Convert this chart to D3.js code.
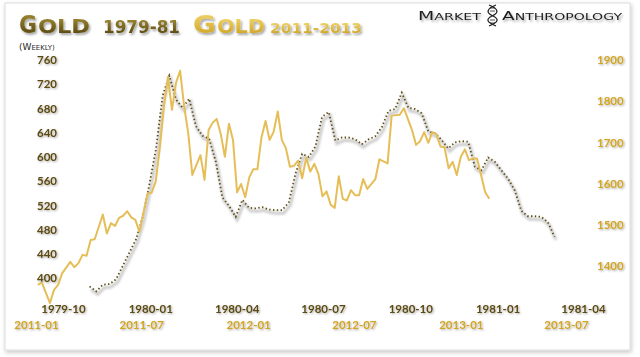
<!DOCTYPE html>
<html><head><meta charset="utf-8">
<script src="https://cdn.jsdelivr.net/npm/d3@7"></script>
<style>
html,body{margin:0;padding:0;background:#fff;}
svg{display:block;}
</style></head>
<body>
<svg id="chart" width="640" height="357"></svg>
<script>
// ---------- DATA ----------
// 1979-81 weekly gold (left axis, upper date axis); week index from 1979-10-29
const oldWeeks = d3.range(0, 71);
const oldValues = [386,378,389,390,398,420,442,464,501,554,613,701,734,695,681,696,651,635,630,592,
  533,519,501,529,516,515,517,513,512,512,525,572,605,600,617,666,674,627,632,632,
  629,621,629,634,649,676,679,706,681,679,672,642,639,628,614,624,626,625,584,578,
  599,592,578,564,545,511,502,502,501,492,468];
// 2011-13 weekly gold (right axis, lower date axis); week index from 2011-01-04
const newWeeks = [0,1,3,4,5,6,8,9,10,11,12,13,14,16,17,18,19,20,21,22,23,24,25,27,28,29,30,31,32,33,
  34,35,36,37,38,40,41,42,43,44,45,46,47,48,49,50,51,52,53,54,55,56,57,58,59,60,61,62,63,64,
  65,66,67,68,69,70,71,72,73,74,75,76,77,78,79,80,81,83,84,86,87,89,90,92,93,94,95,96,97,98,
  99,100,101,102,103,104,105,106,107,108,110,111];
const newValues = [1354,1360,1310,1342,1354,1382,1410,1397,1407,1427,1425,1463,1465,1525,1479,1504,1497,1517,1522,1533,
  1518,1512,1483,1576,1578,1605,1686,1787,1859,1779,1845,1874,1787,1722,1621,1669,1609,1730,1748,1757,
  1720,1665,1745,1706,1579,1599,1567,1615,1635,1635,1712,1752,1706,1726,1775,1706,1686,1641,1643,1656,
  1613,1663,1629,1648,1623,1569,1581,1549,1541,1618,1563,1559,1584,1572,1572,1611,1587,1611,1659,1649,
  1765,1767,1783,1730,1694,1703,1725,1699,1725,1720,1690,1688,1637,1653,1621,1665,1683,1657,1661,1661,
  1579,1563];
const leftTicks = [400,440,480,520,560,600,640,680,720,760];
const rightTicks = [1400,1500,1600,1700,1800,1900];
const oldDateTicks = ["1979-10","1980-01","1980-04","1980-07","1980-10","1981-01","1981-04"];
const newDateTicks = ["2011-01","2011-07","2012-01","2012-07","2013-01","2013-07"];

// ---------- SETUP ----------
const svg = d3.select("#chart");
const defs = svg.append("defs");
const parseYM = d3.timeParse("%Y-%m");
const fmt = d3.timeFormat("%Y-%m");

const fShadow = defs.append("filter").attr("id","frameShadow").attr("x","-5%").attr("y","-5%").attr("width","110%").attr("height","110%");
fShadow.append("feDropShadow").attr("dx",1).attr("dy",2).attr("stdDeviation",2).attr("flood-color","#000").attr("flood-opacity",0.22);
const tShadow = defs.append("filter").attr("id","textShadow").attr("x","-20%").attr("y","-30%").attr("width","140%").attr("height","160%");
tShadow.append("feDropShadow").attr("dx",1).attr("dy",1).attr("stdDeviation",0.8).attr("flood-color","#000").attr("flood-opacity",0.35);
const titleShadow = defs.append("filter").attr("id","titleShadow").attr("x","-20%").attr("y","-30%").attr("width","140%").attr("height","170%");
titleShadow.append("feDropShadow").attr("dx",1.5).attr("dy",2).attr("stdDeviation",1.2).attr("flood-color","#000").attr("flood-opacity",0.35);
const blur = defs.append("filter").attr("id","lineBlur").attr("x","-10%").attr("y","-10%").attr("width","120%").attr("height","120%");
blur.append("feGaussianBlur").attr("stdDeviation",1.3);

const g1 = defs.append("linearGradient").attr("id","oldGrad").attr("x1",0).attr("y1",0).attr("x2",0).attr("y2",1);
g1.append("stop").attr("offset","0%").attr("stop-color","#a89236");
g1.append("stop").attr("offset","100%").attr("stop-color","#4e3e0a");
const g2 = defs.append("linearGradient").attr("id","newGrad").attr("x1",0).attr("y1",0).attr("x2",0).attr("y2",1);
g2.append("stop").attr("offset","0%").attr("stop-color","#f6da72");
g2.append("stop").attr("offset","100%").attr("stop-color","#c99e1c");

// frame
svg.append("rect").attr("x",5).attr("y",3).attr("width",625).attr("height",347)
  .attr("fill","#fff").attr("stroke","#dcdcdc").attr("stroke-width",1).attr("filter","url(#frameShadow)");

// ---------- SCALES ----------
const xOld = d3.scaleTime().domain([new Date(1979,9,1), new Date(1981,3,1)]).range([63,583]);
const xNew = d3.scaleTime().domain([new Date(2011,0,1), new Date(2013,6,1)]).range([36,566]);
const yOld = d3.scaleLinear().domain([400,760]).range([278,60]);
const yNew = d3.scaleLinear().domain([1400,1900]).range([266,60]);
const oldStart = new Date(1979,9,29), newStart = new Date(2011,0,4);

const oldData = oldWeeks.map((w,i)=>({d:d3.timeDay.offset(oldStart,7*w), v:oldValues[i]}));
const newData = newWeeks.map((w,i)=>({d:d3.timeDay.offset(newStart,7*w), v:newValues[i]}));

const lineOld = d3.line().x(p=>xOld(p.d)).y(p=>yOld(p.v));
const lineNew = d3.line().x(p=>xNew(p.d)).y(p=>yNew(p.v));

// ---------- AXES ----------
const labelFont = "Lato, 'Open Sans', sans-serif";
function styleAxis(sel, color){
  sel.select(".domain").remove();
  sel.selectAll(".tick line").remove();
  sel.selectAll("text").attr("fill",color).style("font-family",labelFont)
     .style("font-weight","bold").style("font-size","11.5px").attr("filter","url(#textShadow)");
}
svg.append("g").attr("transform","translate(57,0)")
  .call(d3.axisLeft(yOld).tickValues(leftTicks).tickFormat(d3.format("d")).tickSize(0).tickPadding(0))
  .call(s=>styleAxis(s,"#5c4a12"));
svg.append("g").attr("transform","translate(597,0)")
  .call(d3.axisRight(yNew).tickValues(rightTicks).tickFormat(d3.format("d")).tickSize(0).tickPadding(0))
  .call(s=>styleAxis(s,"#d2a524"));
svg.append("g").attr("transform","translate(0,302)")
  .call(d3.axisBottom(xOld).tickValues(oldDateTicks.map(parseYM)).tickFormat(fmt).tickSize(0).tickPadding(3))
  .call(s=>styleAxis(s,"#5c4a12"));
svg.append("g").attr("transform","translate(0,318)")
  .call(d3.axisBottom(xNew).tickValues(newDateTicks.map(parseYM)).tickFormat(fmt).tickSize(0).tickPadding(3))
  .call(s=>styleAxis(s,"#d2a524"));

// ---------- LINES ----------
svg.append("path").datum(oldData).attr("d",lineOld)
  .attr("fill","none").attr("stroke","#9a9a9a").attr("stroke-width",3).attr("opacity",0.5)
  .attr("transform","translate(1.5,3)").attr("filter","url(#lineBlur)");
svg.append("path").datum(oldData).attr("d",lineOld)
  .attr("fill","none").attr("stroke","#5e4c12").attr("stroke-width",1.8).attr("stroke-dasharray","1.4,2.4");
svg.append("path").datum(newData).attr("d",lineNew)
  .attr("fill","none").attr("stroke","#e6be58").attr("stroke-width",2).attr("stroke-linejoin","round");

// ---------- TITLE ----------
const tf = "'DejaVu Sans', sans-serif";
function piece(txt,x,y,size,len,fill){
  svg.append("text").attr("x",x).attr("y",y).text(txt)
    .style("font-family",tf).style("font-size",size+"px").style("font-weight","bold")
    .attr("textLength",len).attr("lengthAdjust","spacingAndGlyphs")
    .attr("fill",fill).attr("filter","url(#titleShadow)");
}
piece("G",19,33,25,18,"url(#oldGrad)");
piece("OLD",38,33,19,52,"url(#oldGrad)");
piece("1979-81",103,33,18,77,"url(#oldGrad)");
piece("G",193,33,25,23,"url(#newGrad)");
piece("OLD",217,33,19,48,"url(#newGrad)");
piece("2011-2013",270,33,13.5,92,"url(#newGrad)");

// (WEEKLY)
const wk = svg.append("text").attr("x",19).attr("y",50).style("font-family",tf).attr("fill","#2a2a2a");
wk.append("tspan").text("(W").style("font-size","9px");
wk.append("tspan").text("EEKLY)").style("font-size","7px");

// logo
function logoPiece(big,small,x,len){
  const t = svg.append("text").attr("x",x).attr("y",20).style("font-family",tf).attr("fill","#1e1e1e")
    .attr("filter","url(#titleShadow)").attr("textLength",len).attr("lengthAdjust","spacingAndGlyphs");
  t.append("tspan").text(big).style("font-size","12.5px");
  t.append("tspan").text(small).style("font-size","9.5px");
}
logoPiece("M","ARKET",418,63);
logoPiece("A","NTHROPOLOGY",502,120);
// DNA glyph
const dna = svg.append("g").attr("stroke","#222").attr("fill","none").attr("stroke-width",1.3);
dna.append("path").attr("d","M489,5 C499,9 499,13 492,16 C486,19 486,22 496,26");
dna.append("path").attr("d","M496,5 C486,9 486,13 493,16 C499,19 499,22 489,26");
[8,11,20,23].forEach(y=>dna.append("line").attr("x1",490).attr("x2",495).attr("y1",y).attr("y2",y).attr("stroke-width",0.8));
</script>
</body></html>
